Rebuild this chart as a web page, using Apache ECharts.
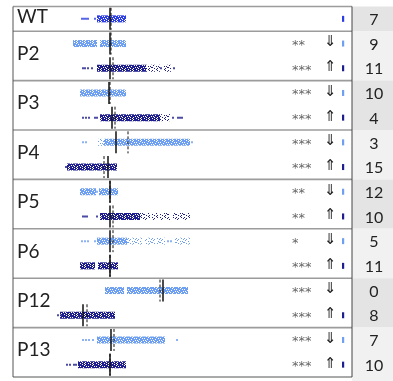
<!DOCTYPE html>
<html>
<head>
<meta charset="utf-8">
<script src="https://cdn.jsdelivr.net/npm/echarts@6/dist/echarts.min.js"></script>
<style>html,body{margin:0;padding:0;background:#fff}#c{width:393px;height:381px}</style>
</head>
<body>
<div id="c"></div>
<script>
// ---------- data ----------
const rowNames = ['WT','P2 ⇓','P2 ⇑','P3 ⇓','P3 ⇑','P4 ⇓','P4 ⇑','P5 ⇓','P5 ⇑','P6 ⇓','P6 ⇑','P12 ⇓','P12 ⇑','P13 ⇓','P13 ⇑'];
const rowKind  = ['wt','down','up','down','up','down','up','down','up','down','up','down','up','down','up'];
const groups = ['WT','P2','P3','P4','P5','P6','P12','P13'];
const groupFirstRow = [0,1,3,5,7,9,11,13];
const groupRowCount = [1,2,2,2,2,2,2,2];
const counts = [7, 9,11, 10,4, 3,15, 12,10, 5,11, 0,8, 7,10];
const stars  = ['', '**','***', '***','***', '***','***', '**','**', '*','***', '***','***', '***','***'];
const arrows = ['', '⇓','⇑', '⇓','⇑', '⇓','⇑', '⇓','⇑', '⇓','⇑', '⇓','⇑', '⇓','⇑'];
const medians = [0, 0, 0, -0.1, 0.2, 0.6, -0.2, 0, 0, 0, 0, 5.3, -2.7, 0.1, 0];
const means   = [0.1, 0.1, 0.3, 0.0, 0.5, 1.8, -0.6, 0.0, 0.3, 0.3, 0.0, 5.0, -2.3, 0.4, 0.0];
// dense strips per row: [from, to, density]
const denseSegs = [
  [[-1.3,1.6,1]],
  [[-3.7,-1.3,1],[-1.0,1.6,1]],
  [[-1.3,3.6,1],[3.6,5.0,0.5],[5.3,6.2,0.5]],
  [[-3.0,1.6,1]],
  [[-1.0,5.0,1],[5.0,6.0,0.5]],
  [[-1.2,-0.6,0.5],[-0.6,8.0,1]],
  [[-4.3,0.7,1]],
  [[-3.0,-1.4,1],[-1.1,0.8,1]],
  [[-1.0,3.0,1],[3.0,4.0,0.5],[4.2,4.8,0.5],[5.0,6.0,0.5],[6.3,8.0,0.5]],
  [[-1.3,1.7,1],[1.7,3.2,0.5],[3.5,4.5,0.5],[4.7,5.5,0.5],[6.5,8.0,0.5]],
  [[-3.0,-1.5,1],[-1.2,0.8,1]],
  [[-0.5,1.4,1],[1.7,7.8,1]],
  [[-5.0,0.5,1]],
  [[-1.3,5.5,1]],
  [[-3.2,1.6,1]]
];
const sparsePts = [
  [-2.8,-2.6,-2.4,-2.2,-1.5],
  [],
  [-2.7,-2.5,-2.2,-1.8,5.1,6.4],
  [],
  [-2.7,-2.4,-2.1,-1.5,-1.3,6.3,6.8,7.0,7.2],
  [-2.7,-2.4,8.2],
  [-4.4],
  [-1.3],
  [-2.7,-2.5,-2.3,-1.3],
  [-2.8,-2.5,-2.2,-1.5,5.8,6.1],
  [],
  [],
  [-5.2,-4.9],
  [-2.7,-2.4,-2.1,-1.7,6.7],
  [-4.3,-4.0,-3.6,-3.4]
];
const headerText = 'Nos';

// ---------- styles ----------
const kindColor = {wt:'#2d3fe3', down:'#6f9ff0', up:'#1e1e8e'};
const DENSE = ['11011011','11110111','01111101','11101111','10111110','11011011','01110111'];
const LOOSE = ['10000100','00100001','01000000','00001010','10000001','00100100','00001000'];
const patCache = {};
function pattern(color, density){
  const key = color + density;
  if (patCache[key]) return patCache[key];
  const tile = density >= 1 ? DENSE : LOOSE;
  const cv = document.createElement('canvas'); cv.width = 8; cv.height = tile.length;
  const ctx = cv.getContext('2d'); ctx.fillStyle = color;
  tile.forEach((row, j) => row.split('').forEach((c, i) => { if (c === '1') ctx.fillRect(i, j, 1, 1); }));
  patCache[key] = {type:'pattern', image: cv, repeat:'repeat'};
  return patCache[key];
}

const bandData = [];
denseSegs.forEach((segs, r) => segs.forEach(s => bandData.push([s[0], r, s[1], s[2]])));
const sparseData = [];
sparsePts.forEach((pts, r) => pts.forEach(x => sparseData.push([x, r])));
const lineData = [];
medians.forEach((v, r) => lineData.push([v, r, 0]));
means.forEach((v, r) => lineData.push([v, r, 1]));

const chart = echarts.init(document.getElementById('c'), null, {renderer:'canvas'});
const FONT = 'Lato, "Noto Sans", sans-serif';

chart.setOption({
  animation: false,
  grid: {left: 13, width: 339, top: 6.5, height: 370.5},
  xAxis: {type:'value', min:-9.7, max:24.2, show:false},
  yAxis: {type:'category', data: rowNames, inverse:true, show:false},
  graphic: [{type:'text', left: 362, top: -14, style:{text: headerText, font:'bold 16px ' + FONT, fill:'#222'}}],
  series: [
    { // table frame
      type:'custom', silent:true, z:1, data:[[0,0]],
      renderItem(params, api){
        const cs = params.coordSys; const h = api.size([0,1])[1];
        const kids = [];
        groups.forEach((g, gi) => {
          const y0 = api.coord([0, groupFirstRow[gi]])[1] - h/2;
          const y1 = api.coord([0, groupFirstRow[gi] + groupRowCount[gi] - 1])[1] + h/2;
          const last = gi === groups.length - 1;
          kids.push({type:'rect', shape:{x: cs.x + cs.width, y: y0, width: 60, height: (last ? 20 : 0) + y1 - y0},
            style:{fill: gi % 2 === 0 ? '#e4e4e4' : '#f1f1f1'}});
          kids.push({type:'line', shape:{x1: cs.x, y1: y0, x2: cs.x + cs.width, y2: y0},
            style:{stroke:'#9c9c9c', lineWidth:1.6}});
          kids.push({type:'text', x: cs.x + 4, y: (y0 + y1)/2 - 2,
            style:{text: g, font:'19px ' + FONT, fill:'#222', textVerticalAlign:'middle'}});
        });
        const yb = cs.y + cs.height;
        kids.push({type:'line', shape:{x1: cs.x, y1: yb, x2: cs.x + cs.width, y2: yb}, style:{stroke:'#555', lineWidth:1.2}});
        kids.push({type:'line', shape:{x1: cs.x, y1: cs.y, x2: cs.x, y2: yb}, style:{stroke:'#555', lineWidth:1}});
        kids.push({type:'line', shape:{x1: cs.x + cs.width, y1: cs.y, x2: cs.x + cs.width, y2: yb}, style:{stroke:'#444', lineWidth:1}});
        return {type:'group', children: kids};
      }
    },
    { // dense strips
      type:'custom', silent:true, z:3, data: bandData,
      renderItem(params, api){
        const r = api.value(1);
        const p0 = api.coord([api.value(0), r]);
        const p1 = api.coord([api.value(2), r]);
        const color = kindColor[rowKind[r]];
        return {type:'rect', shape:{x:p0[0], y:p0[1]-3.5, width:p1[0]-p0[0], height:7},
          style:{fill: pattern(color, api.value(3))}};
      }
    },
    { // sparse points
      type:'scatter', silent:true, z:3, data: sparseData, symbol:'rect', symbolSize: 2,
      itemStyle:{color: p => kindColor[rowKind[p.data[1]]]}
    },
    { // median (solid) / mean (dashed)
      type:'custom', silent:true, z:5, data: lineData,
      renderItem(params, api){
        const p = api.coord([api.value(0), api.value(1)]);
        const dashed = api.value(2) === 1;
        return {type:'line', shape:{x1:p[0], y1:p[1]-11, x2:p[0], y2:p[1]+11},
          style:{stroke:'#111', lineWidth: dashed ? 1 : 1.5, lineDash: dashed ? [3,2] : null}};
      }
    },
    { // right-hand columns
      type:'custom', silent:true, z:6, data: rowNames.map((n, i) => [0, i]),
      renderItem(params, api){
        const r = api.value(1);
        const cs = params.coordSys;
        const y = api.coord([0, r])[1];
        const xr = cs.x + cs.width;
        const kids = [];
        if (stars[r]) kids.push({type:'text', x: xr - 60, y: y + 2,
          style:{text: stars[r], font:'13px "DejaVu Sans", sans-serif', fill:'#666', textVerticalAlign:'middle'}});
        if (arrows[r]) kids.push({type:'text', x: xr - 22, y: y - 1,
          style:{text: arrows[r], font:'15px "DejaVu Sans", sans-serif', fill:'#222', textAlign:'center', textVerticalAlign:'middle'}});
        if (counts[r] > 0) kids.push({type:'rect', shape:{x: xr - 10, y: y - 3, width: 2.2, height: 6},
          style:{fill: kindColor[rowKind[r]]}});
        kids.push({type:'text', x: xr + 22, y: y + 1,
          style:{text: String(counts[r]), font:'16px ' + FONT, fill:'#222', textAlign:'center', textVerticalAlign:'middle'}});
        return {type:'group', children: kids};
      }
    }
  ]
});
</script>
</body>
</html>
